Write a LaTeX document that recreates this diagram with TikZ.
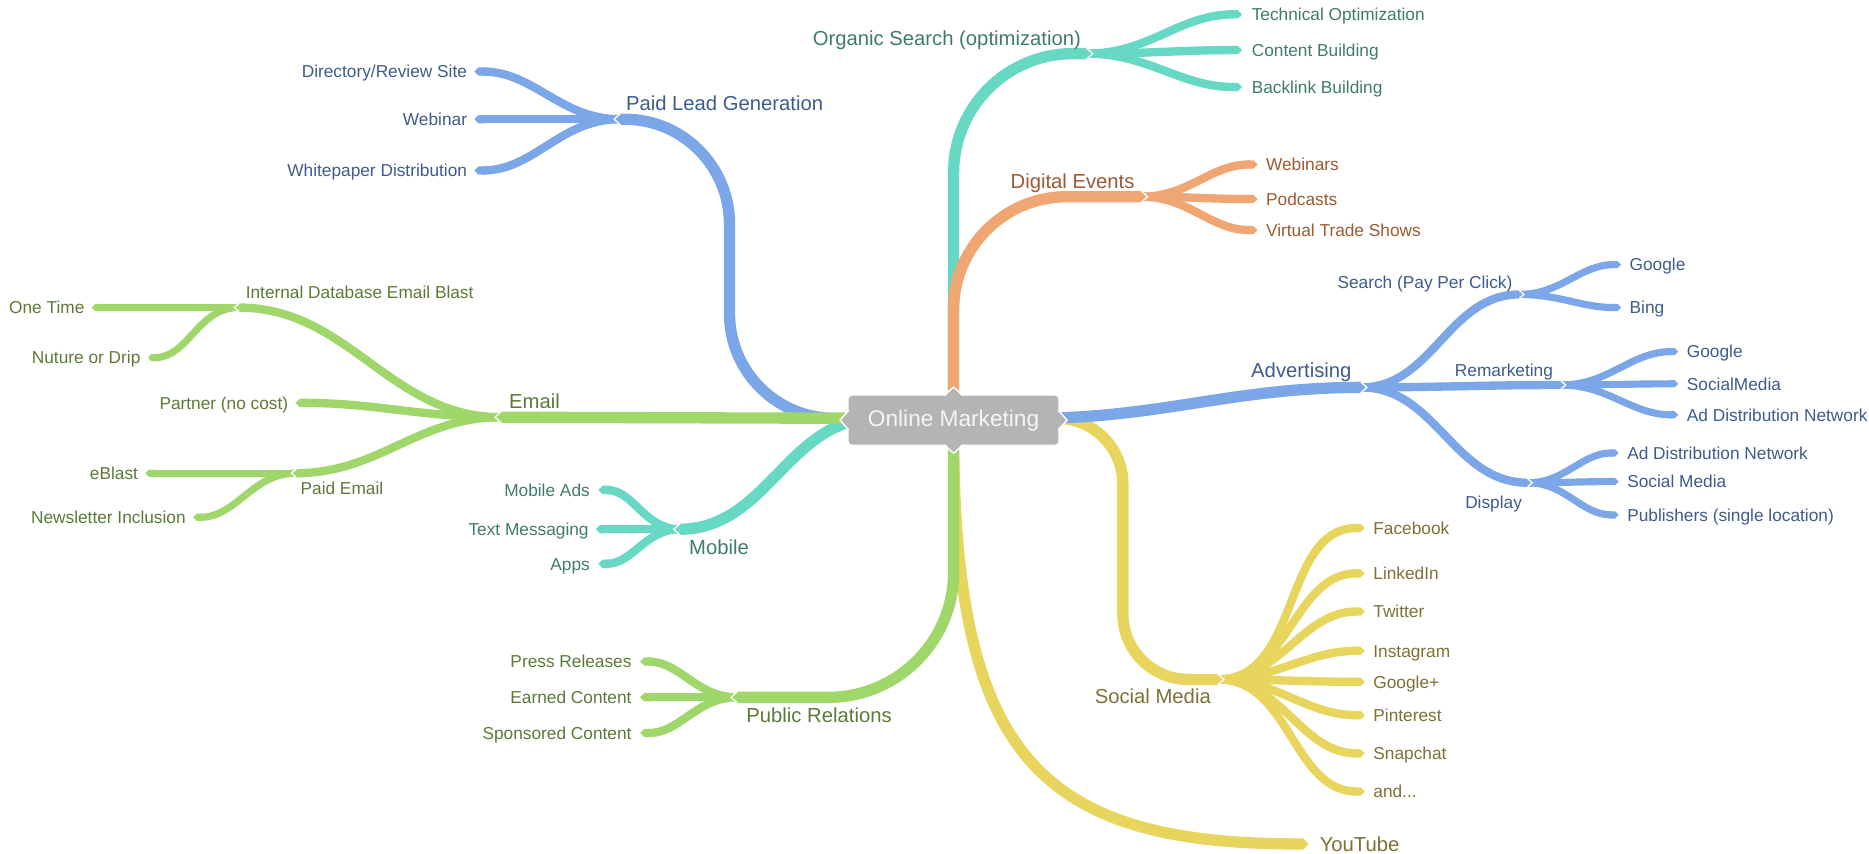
\documentclass[tikz,border=0pt]{standalone}
\usepackage{fontspec}
\setmainfont{Liberation Sans}
\usetikzlibrary{calc,arrows.meta}

\definecolor{bluel}{HTML}{7BA6E7}
\definecolor{bluet}{HTML}{3D5B8C}
\definecolor{teall}{HTML}{67D8C3}
\definecolor{tealt}{HTML}{3F7B6D}
\definecolor{orangel}{HTML}{F0A673}
\definecolor{oranget}{HTML}{9B5A2F}
\definecolor{greenl}{HTML}{A0D76B}
\definecolor{greent}{HTML}{5B7A37}
\definecolor{yell}{HTML}{E8D55D}
\definecolor{yelt}{HTML}{7D7035}
\definecolor{hubgray}{HTML}{B4B4B4}

\tikzset{
  lvA/.style={line width=9.5pt},
  lvB/.style={line width=7pt},
  lvC/.style={line width=6pt},
  leaf/.style={-{Triangle Cap[]}},
  txt/.style={inner sep=0pt, text height=10.4pt, text depth=0pt, font=\fontsize{14.5}{17}\selectfont},
  txtA/.style={inner sep=0pt, text height=12.2pt, text depth=0pt, font=\fontsize{17}{20}\selectfont},
  L/.style={anchor=east}, R/.style={anchor=west}
}

% pointed tab at a branch junction, outlined in white
\newcommand\junctab[4]{% coordinate, direction (1 or -1), width, colour
  \fill[#4] ($(#1)+(0,#3/2)$) -- ($(#1)+(#2*#3/2,0)$) -- ($(#1)+(0,-#3/2)$) -- cycle;
  \draw[white,line width=1.1pt] ($(#1)+(-#2*0.5,#3/2)$) -- ($(#1)+(#2*#3/2,0)$) -- ($(#1)+(-#2*0.5,-#3/2)$);}

\begin{document}
\begin{tikzpicture}[x=1pt,y=-1pt]
\useasboundingbox (0,0) rectangle (1568,716);

% hub attachment points
\coordinate (hubL) at (735,351);
\coordinate (hubR) at (865,351);
\coordinate (hubT) at (800,345);
\coordinate (hubB) at (800,360);

% junctions of the main branches
\coordinate (os)  at (912,45);
\coordinate (de)  at (958,165);
\coordinate (plg) at (520,100);
\coordinate (em)  at (420,350);
\coordinate (mob) at (570,444);
\coordinate (pr)  at (618,585);
\coordinate (yt)  at (1098,708);
\coordinate (sm)  at (1022,570);
\coordinate (adv) at (1142,325);

% second level junctions / ends
\coordinate (os1) at (1042,12);  \coordinate (os2) at (1042,42);  \coordinate (os3) at (1042,73);
\coordinate (de1) at (1055,138); \coordinate (de2) at (1055,167); \coordinate (de3) at (1055,193);
\coordinate (plg1) at (398,60);  \coordinate (plg2) at (398,100); \coordinate (plg3) at (398,143);
\coordinate (emA) at (200,258);  \coordinate (emB) at (248,338);  \coordinate (emC) at (248,397);
\coordinate (emA1) at (77,258);  \coordinate (emA2) at (124,300);
\coordinate (emC1) at (122,397); \coordinate (emC2) at (162,434);
\coordinate (mob1) at (502,411); \coordinate (mob2) at (500,444); \coordinate (mob3) at (502,473);
\coordinate (pr1) at (537,555);  \coordinate (pr2) at (537,585);  \coordinate (pr3) at (537,615);
\coordinate (sm1) at (1145,443); \coordinate (sm2) at (1145,481); \coordinate (sm3) at (1145,513);
\coordinate (sm4) at (1145,546); \coordinate (sm5) at (1145,572); \coordinate (sm6) at (1145,600);
\coordinate (sm7) at (1145,632); \coordinate (sm8) at (1145,664);
\coordinate (advA) at (1275,247); \coordinate (advB) at (1310,323); \coordinate (advC) at (1282,405);
\coordinate (advA1) at (1360,222); \coordinate (advA2) at (1360,258);
\coordinate (advB1) at (1408,295); \coordinate (advB2) at (1408,322); \coordinate (advB3) at (1408,348);
\coordinate (advC1) at (1358,380); \coordinate (advC2) at (1358,404); \coordinate (advC3) at (1358,432);

% ---- main branches ----
\draw[yell,lvA,leaf] (hubB) .. controls +(0,270) and +(-230,0) .. (yt);
\draw[greenl,lvA,rounded corners=105pt] (hubB) |- (pr);
\draw[teall,lvA,rounded corners=100pt] (hubT) |- (os);
\draw[orangel,lvA,rounded corners=95pt] (hubT) |- (de);
\draw[bluel,lvA,rounded corners=88pt] (hubL) -| ($(plg)+(92,0)$) -- (plg);
\draw[teall,lvA] (hubL) to[out=180,in=0] (mob);
\draw[greenl,lvA] (hubL) -- (em);
\draw[yell,lvA,rounded corners=55pt] (hubR) -| ($(sm)+(-80,0)$) -- (sm);
\draw[bluel,lvA] (hubR) to[out=0,in=180] (adv);

% ---- Organic Search ----
\foreach \e in {os1,os2,os3} \draw[teall,lvB,leaf] (os) to[out=0,in=180] (\e);
% ---- Digital Events ----
\foreach \e in {de1,de2,de3} \draw[orangel,lvB,leaf] (de) to[out=0,in=180] (\e);
% ---- Paid Lead Generation ----
\foreach \e in {plg1,plg2,plg3} \draw[bluel,lvB,leaf] (plg) to[out=180,in=0] (\e);
% ---- Email ----
\draw[greenl,lvB] (em) to[out=180,in=0] (emA);
\draw[greenl,lvB,leaf] (em) to[out=180,in=0] (emB);
\draw[greenl,lvB] (em) to[out=180,in=0] (emC);
\foreach \e in {emA1,emA2} \draw[greenl,lvC,leaf] (emA) to[out=180,in=0] (\e);
\foreach \e in {emC1,emC2} \draw[greenl,lvC,leaf] (emC) to[out=180,in=0] (\e);
% ---- Mobile ----
\foreach \e in {mob1,mob2,mob3} \draw[teall,lvB,leaf] (mob) to[out=180,in=0] (\e);
% ---- Public Relations ----
\foreach \e in {pr1,pr2,pr3} \draw[greenl,lvB,leaf] (pr) to[out=180,in=0] (\e);
% ---- Social Media ----
\foreach \e in {sm1,sm2,sm3,sm4,sm5,sm6,sm7,sm8} \draw[yell,lvB,leaf] (sm) to[out=0,in=180] (\e);
% ---- Advertising ----
\draw[bluel,lvB] (adv) to[out=0,in=180] (advA);
\draw[bluel,lvB] (adv) to[out=0,in=180] (advB);
\draw[bluel,lvB] (adv) to[out=0,in=180] (advC);
\foreach \e in {advA1,advA2} \draw[bluel,lvC,leaf] (advA) to[out=0,in=180] (\e);
\foreach \e in {advB1,advB2,advB3} \draw[bluel,lvC,leaf] (advB) to[out=0,in=180] (\e);
\foreach \e in {advC1,advC2,advC3} \draw[bluel,lvC,leaf] (advC) to[out=0,in=180] (\e);

% ---- junction tabs ----
\junctab{os}{1}{9.5}{teall}
\junctab{de}{1}{9.5}{orangel}
\junctab{plg}{-1}{9.5}{bluel}
\junctab{em}{-1}{9.5}{greenl}
\junctab{mob}{-1}{9.5}{teall}
\junctab{pr}{-1}{9.5}{greenl}
\junctab{sm}{1}{9.5}{yell}
\junctab{adv}{1}{9.5}{bluel}
\junctab{emA}{-1}{7}{greenl}
\junctab{emC}{-1}{7}{greenl}
\junctab{advA}{1}{7}{bluel}
\junctab{advB}{1}{7}{bluel}
\junctab{advC}{1}{7}{bluel}

% ---- hub ----
\node[fill=hubgray, rounded corners=3pt, minimum width=176pt, minimum height=41pt,
      inner sep=0pt, text=white!96!black, font=\fontsize{19}{22}\selectfont] (hub) at (800,352.5) {Online Marketing};
\foreach \a/\dx/\dy in {north/0/-1, south/0/1, west/-1/0, east/1/0}{
  \fill[hubgray] ($(hub.\a)+(\dx*-2-\dy*8,\dy*-2+\dx*8)$) -- ($(hub.\a)+(\dx*7,\dy*7)$) -- ($(hub.\a)+(\dx*-2+\dy*8,\dy*-2-\dx*8)$) -- cycle;
  \draw[white,line width=1.2pt] ($(hub.\a)+(-\dy*8,\dx*8)$) -- ($(hub.\a)+(\dx*7,\dy*7)$) -- ($(hub.\a)+(\dy*8,-\dx*8)$);
}

% ---- labels ----
\node[txtA,L,text=tealt] (osT) at (907,32) {Organic Search (optimization)};
\node[txt,R,text=tealt] (os1T) at (1050,12) {Technical Optimization};
\node[txt,R,text=tealt] (os2T) at (1050,42) {Content Building};
\node[txt,R,text=tealt] (os3T) at (1050,73) {Backlink Building};

\node[txtA,L,text=oranget] (deT) at (952,152) {Digital Events};
\node[txt,R,text=oranget] (de1T) at (1062,138) {Webinars};
\node[txt,R,text=oranget] (de2T) at (1062,167) {Podcasts};
\node[txt,R,text=oranget] (de3T) at (1062,193) {Virtual Trade Shows};

\node[txtA,R,text=bluet] (plgT) at (525,87) {Paid Lead Generation};
\node[txt,L,text=bluet] (plg1T) at (392,60) {Directory/Review Site};
\node[txt,L,text=bluet] (plg2T) at (392,100) {Webinar};
\node[txt,L,text=bluet] (plg3T) at (392,143) {Whitepaper Distribution};

\node[txtA,R,text=greent] (emT) at (427,337) {Email};
\node[txt,R,text=greent] (emAT) at (206,245) {Internal Database Email Blast};
\node[txt,L,text=greent] (emBT) at (242,338) {Partner (no cost)};
\node[txt,R,text=greent] (emCT) at (252,410) {Paid Email};
\node[txt,L,text=greent] (emA1T) at (71,258) {One Time};
\node[txt,L,text=greent] (emA2T) at (118,300) {Nuture or Drip};
\node[txt,L,text=greent] (emC1T) at (116,397) {eBlast};
\node[txt,L,text=greent] (emC2T) at (156,434) {Newsletter Inclusion};

\node[txtA,R,text=tealt] (mobT) at (578,459) {Mobile};
\node[txt,L,text=tealt] (mob1T) at (495,411) {Mobile Ads};
\node[txt,L,text=tealt] (mob2T) at (494,444) {Text Messaging};
\node[txt,L,text=tealt] (mob3T) at (495,473) {Apps};

\node[txtA,R,text=greent] (prT) at (626,600) {Public Relations};
\node[txt,L,text=greent] (pr1T) at (530,555) {Press Releases};
\node[txt,L,text=greent] (pr2T) at (530,585) {Earned Content};
\node[txt,L,text=greent] (pr3T) at (530,615) {Sponsored Content};

\node[txtA,R,text=yelt] (ytT) at (1107,708) {YouTube};

\node[txtA,L,text=yelt] (smT) at (1016,584) {Social Media};
\node[txt,R,text=yelt] (sm1T) at (1152,443) {Facebook};
\node[txt,R,text=yelt] (sm2T) at (1152,481) {LinkedIn};
\node[txt,R,text=yelt] (sm3T) at (1152,513) {Twitter};
\node[txt,R,text=yelt] (sm4T) at (1152,546) {Instagram};
\node[txt,R,text=yelt] (sm5T) at (1152,572) {Google+};
\node[txt,R,text=yelt] (sm6T) at (1152,600) {Pinterest};
\node[txt,R,text=yelt] (sm7T) at (1152,632) {Snapchat};
\node[txt,R,text=yelt] (sm8T) at (1152,664) {and...};

\node[txtA,L,text=bluet] (advT) at (1134,311) {Advertising};
\node[txt,L,text=bluet] (advAT) at (1269,237) {Search (Pay Per Click)};
\node[txt,L,text=bluet] (advBT) at (1303,311) {Remarketing};
\node[txt,L,text=bluet] (advCT) at (1277,421) {Display};
\node[txt,R,text=bluet] (advA1T) at (1367,222) {Google};
\node[txt,R,text=bluet] (advA2T) at (1367,258) {Bing};
\node[txt,R,text=bluet] (advB1T) at (1415,295) {Google};
\node[txt,R,text=bluet] (advB2T) at (1415,322) {SocialMedia};
\node[txt,R,text=bluet] (advB3T) at (1415,348) {Ad Distribution Network};
\node[txt,R,text=bluet] (advC1T) at (1365,380) {Ad Distribution Network};
\node[txt,R,text=bluet] (advC2T) at (1365,404) {Social Media};
\node[txt,R,text=bluet] (advC3T) at (1365,432) {Publishers (single location)};
\end{tikzpicture}
\end{document}
